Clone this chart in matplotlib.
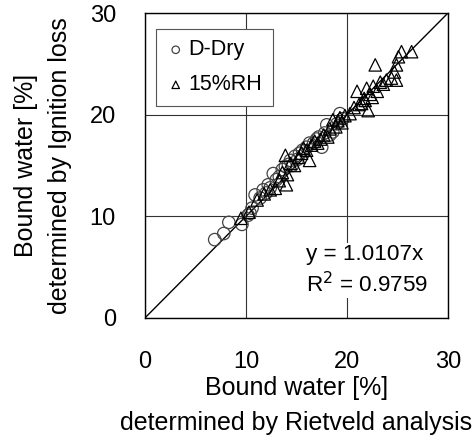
import numpy as np
import matplotlib
matplotlib.use('Agg')
from matplotlib import pyplot as plt

plt.rcParams['font.family'] = ['Liberation Sans', 'DejaVu Sans']

# D-Dry samples (Rietveld, ignition loss)
dry_x = [6.9, 7.8, 8.3, 9.6, 10.2, 10.4, 10.6, 10.9, 11.4, 11.7, 12.0, 12.2, 12.4,
         12.7, 13.0, 13.3, 13.6, 13.9, 14.2, 14.4, 14.6, 14.85, 15.1, 15.3, 15.6,
         16.0, 16.3, 16.7, 17.0, 17.2, 17.5, 17.8, 18.0, 18.3, 18.6, 19.0, 19.3, 19.6]
dry_y = [7.7, 8.3, 9.4, 9.2, 10.1, 10.3, 10.8, 12.1, 11.8, 12.6, 12.3, 13.1, 12.8,
         14.2, 13.6, 13.9, 14.6, 14.9, 15.1, 15.5, 15.0, 15.9, 15.6, 16.2, 16.5,
         16.8, 17.2, 17.2, 17.6, 17.8, 16.8, 18.2, 19.0, 18.0, 18.3, 19.1, 20.1, 19.6]

# 15%RH samples
rh_x = [9.5, 10.3, 11.1, 11.8, 12.4, 12.9, 13.3, 13.6, 13.9, 14.0, 14.1, 14.4,
        14.8, 15.2, 15.5, 15.7, 16.0, 16.3, 16.5, 16.8, 17.1, 17.4, 17.7, 18.1,
        18.3, 18.6, 18.9, 19.1, 19.3, 19.5, 19.8, 20.3, 20.7, 21.0, 21.2, 21.45,
        21.7, 21.8, 21.95, 22.1, 22.3, 22.5, 22.6, 22.8, 23.0, 23.3, 23.6, 23.9,
        24.4, 24.7, 24.9, 24.9, 25.1, 25.4, 26.4]
rh_y = [9.8, 10.4, 11.6, 12.2, 12.6, 12.75, 13.5, 14.3, 16.0, 13.1, 14.1, 15.2,
        15.0, 15.8, 16.2, 16.7, 16.5, 15.5, 17.0, 17.4, 17.2, 17.6, 18.0, 17.8,
        18.6, 19.5, 18.8, 19.4, 19.7, 19.2, 19.9, 20.1, 20.7, 22.3, 21.0, 21.1,
        21.6, 21.4, 22.6, 20.4, 22.0, 21.7, 22.8, 24.9, 22.3, 23.2, 23.0, 23.4,
        23.6, 24.2, 23.4, 24.9, 25.7, 26.2, 26.2]

line_x = [0, 30]
ticks = [0, 10, 20, 30]

fig = plt.figure(figsize=(4.74, 4.36), dpi=100)
ax = fig.add_axes([0.306, 0.271, 0.639, 0.699])

ax.plot(line_x, line_x, color='black', lw=1.0, zorder=2)
ax.scatter(dry_x, dry_y, s=80, facecolors='none', edgecolors='#444444',
           linewidths=0.9, marker='o', label='D-Dry', zorder=3)
ax.scatter(rh_x, rh_y, s=80, facecolors='none', edgecolors='black',
           linewidths=0.9, marker='^', label='15%RH', zorder=4)

ax.set_xlim(0, 30)
ax.set_ylim(0, 30)
ax.set_xticks(ticks)
ax.set_yticks(ticks)
ax.grid(True, color='#333333', lw=0.8)
ax.set_axisbelow(True)
for s in ax.spines.values():
    s.set_linewidth(1.0)
ax.tick_params(length=0, labelsize=17)
ax.tick_params(axis='x', pad=24)
ax.tick_params(axis='y', pad=21)

ax.set_xlabel('Bound water [%]\ndetermined by Rietveld analysis', fontsize=18,
              linespacing=1.6, labelpad=2)
ax.set_ylabel('Bound water [%]\ndetermined by Ignition loss', fontsize=18,
              linespacing=1.5, labelpad=13)

leg = ax.legend(loc='upper left', bbox_to_anchor=(0.016, 0.97), fontsize=15.5,
                fancybox=False, edgecolor='#555555', framealpha=1,
                handletextpad=0.2, handlelength=0.8, markerscale=0.6,
                borderpad=0.5, labelspacing=0.65, borderaxespad=0.3)
leg.get_frame().set_linewidth(0.8)

ax.text(0.53, 0.155, 'y = 1.0107x\nR$^2$ = 0.9759', transform=ax.transAxes,
        fontsize=16.2, linespacing=1.3, va='center', ha='left',
        bbox=dict(facecolor='white', edgecolor='none', pad=1), zorder=5)

fig.savefig('out.png', dpi=100)
